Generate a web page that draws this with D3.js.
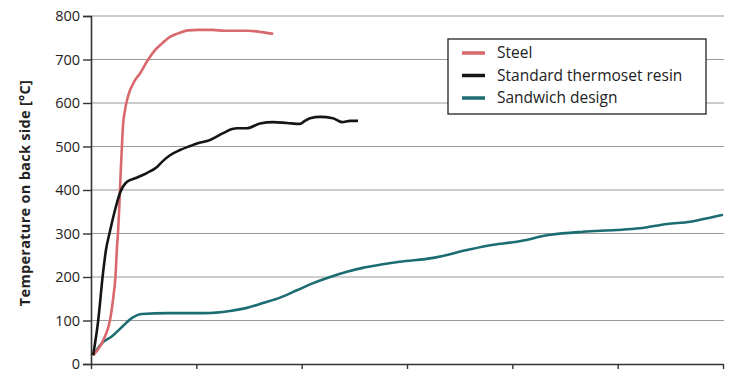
<!DOCTYPE html>
<html>
<head>
<meta charset="utf-8">
<script src="https://cdn.jsdelivr.net/npm/d3@7"></script>
<style>
  html, body { margin: 0; padding: 0; background: #fff; }
  svg { display: block; font-family: "Open Sans", "Noto Sans", sans-serif; }
</style>
</head>
<body>
<div id="vis"></div>
<script>
// time (t) and temperature (v)
const steel = [
  [0.2, 20], [1.3, 62], [1.8, 100], [2.0, 131], [2.2, 170], [2.3, 193], [2.47, 269],
  [2.56, 300], [2.66, 347], [2.75, 400], [2.85, 457], [2.94, 503], [3.04, 549],
  [3.23, 584], [3.5, 614], [4.2, 653], [4.65, 668], [5.4, 699], [6.1, 722], [6.75, 737],
  [7.5, 752], [8.26, 760], [9.2, 767], [10.2, 768], [11.5, 768], [12.7, 766],
  [14.9, 766], [16.2, 763], [17.3, 759]
];

const resin = [
  [0.2, 20], [0.66, 95], [1.14, 209], [1.42, 262], [1.8, 305], [2.28, 354], [2.75, 393],
  [3.42, 419], [4.18, 427], [5.3, 439], [6.27, 453], [6.84, 467], [7.5, 480], [8.45, 492],
  [9.4, 501], [10.06, 507], [11.3, 515], [12.5, 530], [13.4, 540], [13.86, 542],
  [14.8, 542], [16.05, 553], [17.3, 556], [18.6, 554], [19.84, 552], [20.3, 559],
  [20.8, 565], [21.74, 568], [22.97, 565], [23.83, 556], [24.6, 559], [25.35, 559]
];

const sandwich = [
  [0.2, 20], [1.04, 48], [2.0, 64], [2.94, 85], [3.9, 106], [4.84, 115], [7.3, 117],
  [10.8, 117], [13.2, 122], [14.8, 129], [16.3, 140], [17.9, 152], [19.6, 170],
  [21.1, 186], [22.7, 200], [24.3, 212], [25.8, 221], [27.4, 228], [29.3, 235],
  [32.5, 244], [35.7, 262], [38.2, 274], [40.4, 281], [43.6, 297], [46.7, 304],
  [49.9, 308], [52.1, 312], [54.7, 322], [56.9, 327], [59.05, 338], [60, 343]
];

const seriesNames = ["Steel", "Standard thermoset resin", "Sandwich design"];
const seriesColors = ["#d9686d", "#151515", "#1c6d72"];
const yTicks = [0, 100, 200, 300, 400, 500, 600, 700, 800];
const xTicks = [0, 10, 20, 30, 40, 50, 60];
const yLabel = "Temperature on back side [°C]";

////////////////////////////////////////
////////////// Setup ///////////////////
////////////////////////////////////////

const options = {
  width: 745,
  height: 374,
  margin: { top: 16, right: 22, bottom: 10, left: 91 }
};

const width = options.width - options.margin.left - options.margin.right;
const height = options.height - options.margin.top - options.margin.bottom;

const svg = d3.select("#vis").append("svg")
  .attr("width", options.width)
  .attr("height", options.height)
  .append("g")
  .attr("transform", `translate(${options.margin.left},${options.margin.top})`);

////////////////////////////////////////
////////////// Scales //////////////////
////////////////////////////////////////

const x = d3.scaleLinear().domain([0, 60]).range([0, width]);
const y = d3.scaleLinear().domain([0, 800]).range([height, 0]);

////////////////////////////////////////
////////////// Grid & Axes /////////////
////////////////////////////////////////

svg.append("g")
  .selectAll("line")
  .data(yTicks.filter(d => d > 0))
  .join("line")
  .attr("x1", 0)
  .attr("x2", width + 1)
  .attr("y1", d => y(d))
  .attr("y2", d => y(d))
  .attr("stroke", "#9a9a9a")
  .attr("stroke-width", 1.2);

const yAxis = svg.append("g")
  .call(d3.axisLeft(y).tickValues(yTicks).tickSize(8).tickPadding(3));
yAxis.select(".domain").attr("stroke", "#333").attr("stroke-width", 1.6);
yAxis.selectAll(".tick line").attr("stroke", "#333").attr("stroke-width", 1.4);
yAxis.selectAll("text")
  .attr("font-size", 14.5)
  .attr("fill", "#222")
  .attr("font-family", "'Open Sans', sans-serif");

const xAxis = svg.append("g")
  .attr("transform", `translate(0,${height})`)
  .call(d3.axisBottom(x).tickValues(xTicks).tickSize(5).tickSizeOuter(0).tickFormat(""));
xAxis.select(".domain").attr("stroke", "#333").attr("stroke-width", 1.6);
xAxis.selectAll(".tick line").attr("stroke", "#333").attr("stroke-width", 1.4);

svg.append("text")
  .attr("transform", `translate(${30 - options.margin.left},${193 - options.margin.top}) rotate(-90)`)
  .attr("text-anchor", "middle")
  .attr("font-size", 14.5)
  .attr("font-weight", "bold")
  .attr("letter-spacing", 0.3)
  .attr("fill", "#222")
  .text(yLabel);

////////////////////////////////////////
////////////// Lines ///////////////////
////////////////////////////////////////

const line = d3.line()
  .x(d => x(d[0]))
  .y(d => y(d[1]))
  .curve(d3.curveMonotoneX);

[sandwich, steel, resin].forEach((data, i) => {
  const idx = [2, 0, 1][i];
  svg.append("path")
    .datum(data)
    .attr("fill", "none")
    .attr("stroke", seriesColors[idx])
    .attr("stroke-width", 2.6)
    .attr("stroke-linejoin", "round")
    .attr("d", line);
});

////////////////////////////////////////
////////////// Legend //////////////////
////////////////////////////////////////

const legend = svg.append("g")
  .attr("transform", `translate(${448 - options.margin.left},${39 - options.margin.top})`);

legend.append("rect")
  .attr("width", 258)
  .attr("height", 75)
  .attr("fill", "#fff")
  .attr("stroke", "#222")
  .attr("stroke-width", 1.3);

const rows = legend.selectAll(".row")
  .data(seriesNames)
  .join("g")
  .attr("class", "row")
  .attr("transform", (d, i) => `translate(0,${14 + i * 22.5})`);

rows.append("line")
  .attr("x1", 14)
  .attr("x2", 37)
  .attr("stroke", (d, i) => seriesColors[i])
  .attr("stroke-width", 3.5);

rows.append("text")
  .attr("x", 49)
  .attr("dy", "0.35em")
  .attr("font-size", 15.5)
  .attr("fill", "#222")
  .text(d => d);
</script>
</body>
</html>
